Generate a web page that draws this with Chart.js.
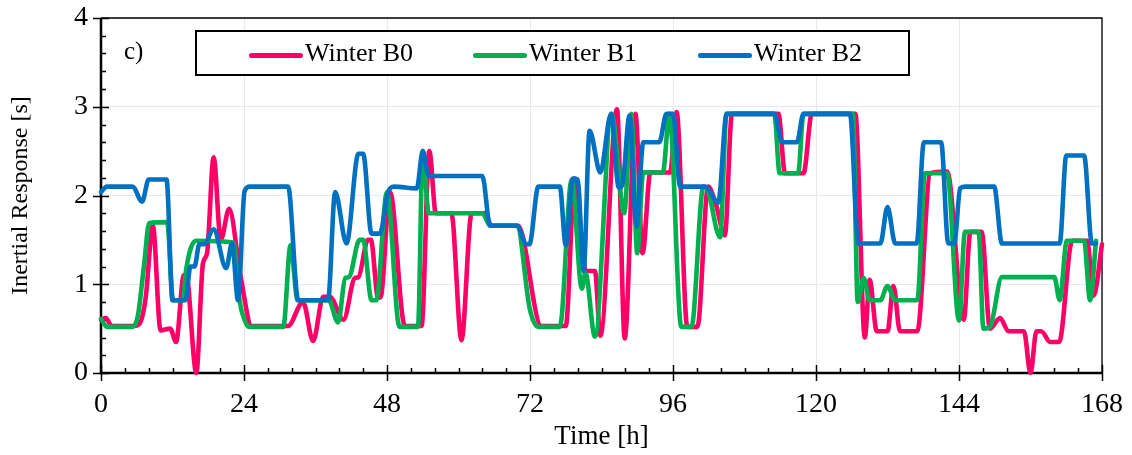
<!DOCTYPE html>
<html>
<head>
<meta charset="utf-8">
<script src="https://cdn.jsdelivr.net/npm/chart.js@4.4.1/dist/chart.umd.min.js"></script>
<style>
  body { margin: 0; background: #fff; }
  #wrap { position: relative; width: 1132px; height: 455px; font-family: "Liberation Serif", "Times New Roman", serif; }
  #legendBox { position: absolute; left: 195px; top: 30px; width: 711px; height: 42px; border: 2px solid #000; background: #fff; }
  .item { position: absolute; top: 0; height: 42px; line-height: 42px; font-size: 26px; color: #000; }
  .swatch { display: inline-block; width: 54px; height: 5px; border-radius: 3px; vertical-align: middle; margin-right: 2px; }
  #panel { position: absolute; left: 124px; top: 36px; font-size: 25px; line-height: 30px; }
</style>
</head>
<body>
<div id="wrap">
  <canvas id="myChart" width="1132" height="455"></canvas>
  <div id="panel">c)</div>
  <div id="legendBox"></div>
</div>
<script>
// x in hours, y in seconds; breakpoints
const b0Hours = [0, 0.8, 1.8, 5.5, 6.5, 7.5, 8.7, 10, 11.6, 12.6, 13.9, 14.3, 16, 17.1, 17.8, 18.9, 20.1, 21.5, 23.4, 25.3,
  31.4, 33.9, 35.6, 37.3, 38.4, 40.7, 42.6, 43.2, 44.8, 45.3, 46.5, 46.9, 48.5, 51, 53.8, 55.1, 56.2, 58.8, 60.5, 62.2,
  64.5, 65.5, 70, 73.9, 78, 79.5, 81.4, 82.9, 83.8, 86.6, 87.9, 89.7, 90.9, 92.2, 95.5, 96.6, 98.4, 100.1, 101.9, 103.2,
  104.7, 105.9, 113.7, 114.8, 117.9, 119.3, 126.6, 128.2, 129, 130.2, 132, 133, 134.1, 137, 139.2, 142, 144.8, 145.9,
  147.8, 149.2, 150.9, 152.3, 154.9, 156, 157, 157.8, 159.3, 160.8, 163, 165.5, 166.6, 168];
const b0Values = [0.6, 0.62, 0.53, 0.53, 0.56, 0.85, 1.66, 0.48, 0.5, 0.35, 1.1, 1.1, 0, 1.23, 1.35, 2.43, 1.5, 1.85, 1.1, 0.53,
  0.53, 0.8, 0.36, 0.86, 0.86, 0.6, 1.07, 1.08, 1.5, 1.5, 0.85, 0.85, 2.04, 0.53, 0.53, 2.5, 1.8, 1.8, 0.37, 1.8,
  1.8, 1.66, 1.66, 0.53, 0.53, 2.19, 1.15, 1.15, 0.42, 2.97, 0.39, 2.92, 1.35, 2.26, 2.26, 2.94, 0.52, 0.52, 2.1, 1.9,
  1.55, 2.92, 2.92, 2.25, 2.25, 2.92, 2.92, 0.4, 1.05, 0.47, 0.47, 0.98, 0.47, 0.47, 2.25, 2.27, 0.6, 1.59,
  1.59, 0.5, 0.62, 0.47, 0.47, 0, 0.47, 0.47, 0.35, 0.35, 1.49, 1.49, 0.87, 1.45];

const b1Hours = [0, 1, 5.3, 6.2, 7.2, 8.1, 11.1, 12.1, 13.8, 14.2, 16, 22.2, 23.3, 24.4, 25, 30.6, 31.8, 33, 38.2, 39.8,
  41, 41.6, 43.4, 44, 45.4, 46.2, 48, 50.1, 53.2, 54, 55, 64, 65.3, 69.8, 72, 73.4, 77, 79, 80.7, 81.3,
  82.9, 85.7, 87.8, 89, 90, 91, 94.3, 95.4, 97.4, 99.1, 101.1, 101.7, 103.9, 105, 113, 113.9, 117, 117.9, 126.2, 127,
  128, 129, 130.8, 132, 133.3, 137, 138.3, 142, 144, 145, 147.3, 148.1, 149.2, 151.2, 160, 160.9, 162.1, 165, 166, 167];
const b1Values = [0.61, 0.52, 0.52, 0.65, 1.2, 1.69, 1.7, 0.82, 0.82, 1.12, 1.49, 1.47, 0.8, 0.55, 0.52, 0.52, 1.44, 0.82, 0.82, 0.57,
  1.07, 1.08, 1.5, 1.5, 0.82, 0.82, 2.04, 0.52, 0.52, 2.5, 1.8, 1.8, 1.66, 1.66, 0.71, 0.52, 0.52, 2.18, 0.95, 1.13,
  0.41, 2.92, 1.8, 2.92, 1.35, 2.26, 2.26, 2.92, 0.52, 0.52, 2.1, 2.08, 1.53, 2.92, 2.92, 2.25, 2.25, 2.92, 2.92, 0.8,
  1.07, 0.82, 0.82, 0.98, 0.82, 0.82, 2.25, 2.25, 0.59, 1.59, 1.59, 0.5, 0.52, 1.08, 1.08, 0.82, 1.49, 1.49, 0.82, 1.49];

const b2Hours = [0, 1, 5.3, 6.9, 8, 11, 12, 14.2, 15, 15.7, 16.5, 17.3, 18.9, 21, 22, 23, 24.1, 25, 31.4, 33.1,
  38.1, 39.3, 41.2, 43.2, 44, 45.4, 46.8, 48.2, 49.2, 53, 54, 55, 64, 65.3, 69.8, 71.4, 71.9, 73.4, 77, 78,
  79.2, 80, 81, 82, 83.8, 85.6, 86.9, 87.5, 88.7, 89.9, 91, 93.7, 94.9, 96, 97.2, 101.4, 103.6, 105, 113, 114.3,
  116.8, 117.9, 125.7, 127.1, 130.8, 132, 133.3, 136.9, 138.1, 141, 142.2, 143.2, 144.2, 145, 149.9, 151.2, 160.9, 162, 165, 166.3, 167];
const b2Values = [2.04, 2.1, 2.1, 1.93, 2.18, 2.18, 0.82, 0.82, 1.2, 1.2, 1.45, 1.45, 1.62, 1.18, 1.46, 0.82, 2.05, 2.1, 2.1, 0.82,
  0.82, 2.04, 1.46, 2.47, 2.47, 1.57, 1.57, 2.04, 2.1, 2.08, 2.5, 2.22, 2.22, 1.66, 1.66, 1.45, 1.45, 2.1, 2.1, 1.44,
  2.19, 2.18, 1.15, 2.73, 2.26, 2.92, 2.09, 2.12, 2.9, 1.65, 2.6, 2.6, 2.92, 2.92, 2.1, 2.1, 1.92, 2.92, 2.92, 2.6,
  2.6, 2.92, 2.92, 1.46, 1.46, 1.87, 1.46, 1.46, 2.6, 2.6, 1.46, 1.46, 2.08, 2.1, 2.1, 1.46, 1.46, 2.45, 2.45, 1.46, 1.46];

const seriesNames = ["Winter B0", "Winter B1", "Winter B2"];
const seriesColors = ["#FF0066", "#00B050", "#0070C0"];
const xTicks = [0, 24, 48, 72, 96, 120, 144, 168];
const yTicks = [0, 1, 2, 3, 4];

function toPoints(hours, values) {
  return hours.map((h, i) => ({ x: h, y: values[i] }));
}

// axis frame with crossing major ticks and inward minor ticks
const axisDecor = {
  id: "axisDecor",
  beforeDatasetsDraw(chart) {
    const { ctx, chartArea: a, scales } = chart;
    const x = scales.x, y = scales.y;
    ctx.save();
    ctx.strokeStyle = "#000";
    ctx.lineWidth = 1.3;
    ctx.beginPath();
    ctx.moveTo(a.left, a.top);
    ctx.lineTo(a.right, a.top);
    ctx.lineTo(a.right, a.bottom);
    ctx.stroke();

    ctx.lineWidth = 1.5;
    ctx.beginPath();
    for (let h = 0; h <= 168; h += 4) {
      const px = Math.round(x.getPixelForValue(h)) + 0.5;
      const major = h % 24 === 0;
      ctx.moveTo(px, a.bottom + (major ? 8 : 0));
      ctx.lineTo(px, a.bottom - (major ? 8 : 5));
    }
    for (let k = 0; k <= 20; k++) {
      const py = Math.round(y.getPixelForValue(k / 5)) + 0.5;
      const major = k % 5 === 0;
      ctx.moveTo(a.left - (major ? 8 : 0), py);
      ctx.lineTo(a.left + (major ? 8 : 5), py);
    }
    ctx.stroke();

    ctx.lineWidth = 2.5;
    ctx.beginPath();
    ctx.moveTo(a.left, a.top);
    ctx.lineTo(a.left, a.bottom);
    ctx.lineTo(a.right, a.bottom);
    ctx.stroke();
    ctx.restore();
  }
};

const fontFamily = "'Liberation Serif', 'Times New Roman', serif";

const data = {
  datasets: [
    { label: seriesNames[0], data: toPoints(b0Hours, b0Values), borderColor: seriesColors[0], order: 3 },
    { label: seriesNames[1], data: toPoints(b1Hours, b1Values), borderColor: seriesColors[1], order: 2 },
    { label: seriesNames[2], data: toPoints(b2Hours, b2Values), borderColor: seriesColors[2], order: 1 }
  ].map((d) => Object.assign(d, {
    borderWidth: 4.6,
    pointRadius: 0,
    cubicInterpolationMode: "monotone",
    borderCapStyle: "round",
    borderJoinStyle: "round",
    clip: 6
  }))
};

const config = {
  type: "line",
  data: data,
  options: {
    responsive: false,
    animation: false,
    layout: { padding: { left: 0, top: 18, right: 30, bottom: 0 } },
    plugins: { legend: { display: false }, tooltip: { enabled: false } },
    scales: {
      x: {
        type: "linear",
        min: 0,
        max: 168,
        afterBuildTicks: (s) => { s.ticks = xTicks.map((v) => ({ value: v })); },
        afterFit: (s) => { s.height = 82; s.paddingLeft = 0; s.paddingRight = 0; },
        grid: { color: "#e9e9e9", lineWidth: 1, drawTicks: false },
        border: { display: false },
        ticks: { color: "#000", padding: 15, font: { family: fontFamily, size: 28 }, maxRotation: 0 },
        title: { display: true, text: "Time [h]", color: "#000", font: { family: fontFamily, size: 27 }, padding: { top: 0, bottom: 2 } }
      },
      y: {
        min: 0,
        max: 4,
        afterBuildTicks: (s) => { s.ticks = yTicks.map((v) => ({ value: v })); },
        afterFit: (s) => { s.width = 101; s.paddingTop = 0; s.paddingBottom = 0; },
        grid: { color: "#e9e9e9", lineWidth: 1, drawTicks: false },
        border: { display: false },
        ticks: { color: "#000", padding: 13, font: { family: fontFamily, size: 28 } },
        title: { display: true, text: "Inertial Response [s]", color: "#000", font: { family: fontFamily, size: 24 }, padding: { top: 6, bottom: 0 } }
      }
    }
  },
  plugins: [axisDecor]
};

let myChart = new Chart(document.getElementById("myChart"), config);

// legend box inside the plot, as in the reference
const legendBox = document.getElementById("legendBox");
const legendLeft = [52, 276, 501];
seriesNames.forEach((name, i) => {
  const item = document.createElement("div");
  item.className = "item";
  item.style.left = legendLeft[i] + "px";
  item.innerHTML = '<span class="swatch" style="background:' + seriesColors[i] + '"></span>' + name;
  legendBox.appendChild(item);
});
</script>
</body>
</html>
